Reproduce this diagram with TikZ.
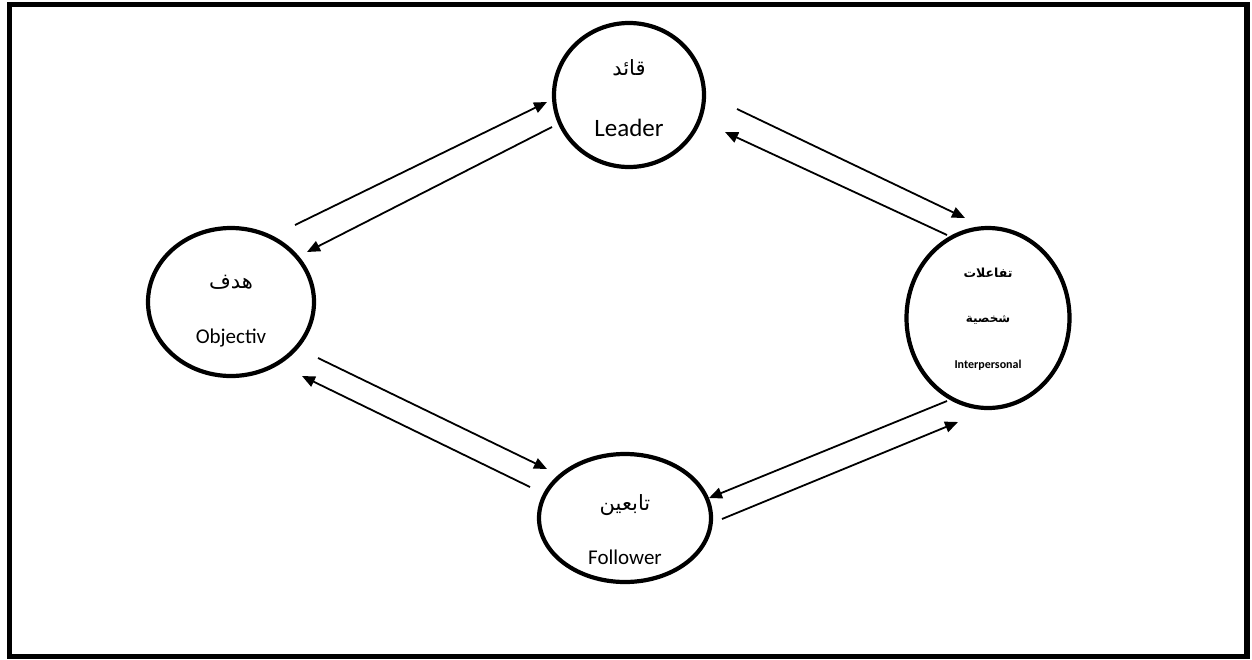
\documentclass[tikz,border=0pt]{standalone}
\usepackage{fontspec}
\setmainfont{Carlito}
\newfontfamily\arabicfont[Script=Arabic]{DejaVu Sans}
\TeXXeTstate=1
\usetikzlibrary{shapes.geometric,arrows.meta,calc}
\tikzset{
  roleshape/.style={draw, ellipse, line width=4.2pt, inner sep=0pt},
  conn/.style={line width=1.8pt, -{Triangle[length=13pt,width=11pt]}},
  lbl/.style={inner sep=0pt, anchor=center},
}
\newcommand{\ar}[1]{{\arabicfont\beginR #1\endR}}
\begin{document}
\begin{tikzpicture}[x=1pt,y=-1pt]
\useasboundingbox (0,0) rectangle (1252,659);
% outer frame
\draw[line width=5.5pt] (9.5,4.5) rectangle (1247,656.5);

% the four roles
\node[roleshape, minimum width=150pt, minimum height=144pt] (lead)  at (629,95)  {};
\node[roleshape, minimum width=166pt, minimum height=148pt] (obj)   at (231,302) {};
\node[roleshape, minimum width=163pt, minimum height=180pt] (inter) at (988,318) {};
\node[roleshape, minimum width=172pt, minimum height=128pt] (fol)   at (625,518) {};

% labels
\node[lbl, font=\fontsize{21}{21}\selectfont] (leadar) at ($(lead)+(0,-27)$) {\ar{قائد}};
\node[lbl, font=\fontsize{25}{25}\selectfont] (leaden) at ($(lead)+(0,33)$) {Leader};
\node[lbl, font=\fontsize{21}{21}\selectfont] (objar) at ($(obj)+(0,-20)$) {\ar{هدف}};
\node[lbl, font=\fontsize{21}{21}\selectfont] (objen) at ($(obj)+(0,36)$) {Objectiv};
\node[lbl, font=\bfseries\fontsize{12.5}{12.5}\selectfont] (interar1) at ($(inter)+(0,-45)$) {\ar{تفاعلات}};
\node[lbl, font=\bfseries\fontsize{12}{12}\selectfont] (interar2) at ($(inter)+(0,2)$) {\ar{شخصية}};
\node[lbl, font=\bfseries\fontsize{12}{12}\selectfont] (interen) at ($(inter)+(0,47)$) {Interpersonal};
\node[lbl, font=\fontsize{21}{21}\selectfont] (folar) at ($(fol)+(0,-13)$) {\ar{تابعين}};
\node[lbl, font=\fontsize{21}{21}\selectfont] (folen) at ($(fol)+(0,39)$) {Follower};

% Objectiv <-> Leader
\draw[conn] ($(obj)+(64,-77)$) -- ($(lead)+(-82,7)$);
\draw[conn] ($(lead)+(-77,32)$) -- ($(obj)+(76,-50)$);
% Leader <-> Interpersonal
\draw[conn] ($(lead)+(108,14)$) -- ($(inter)+(-23,-100)$);
\draw[conn] ($(inter)+(-41,-83)$) -- ($(lead)+(96,37)$);
% Objectiv <-> Follower
\draw[conn] ($(obj)+(87,56)$) -- ($(fol)+(-78,-49)$);
\draw[conn] ($(fol)+(-95,-31)$) -- ($(obj)+(71,74)$);
% Follower <-> Interpersonal
\draw[conn] ($(inter)+(-41,83)$) -- ($(fol)+(84,-20)$);
\draw[conn] ($(fol)+(97,1)$) -- ($(inter)+(-30,104)$);
\end{tikzpicture}
\end{document}
